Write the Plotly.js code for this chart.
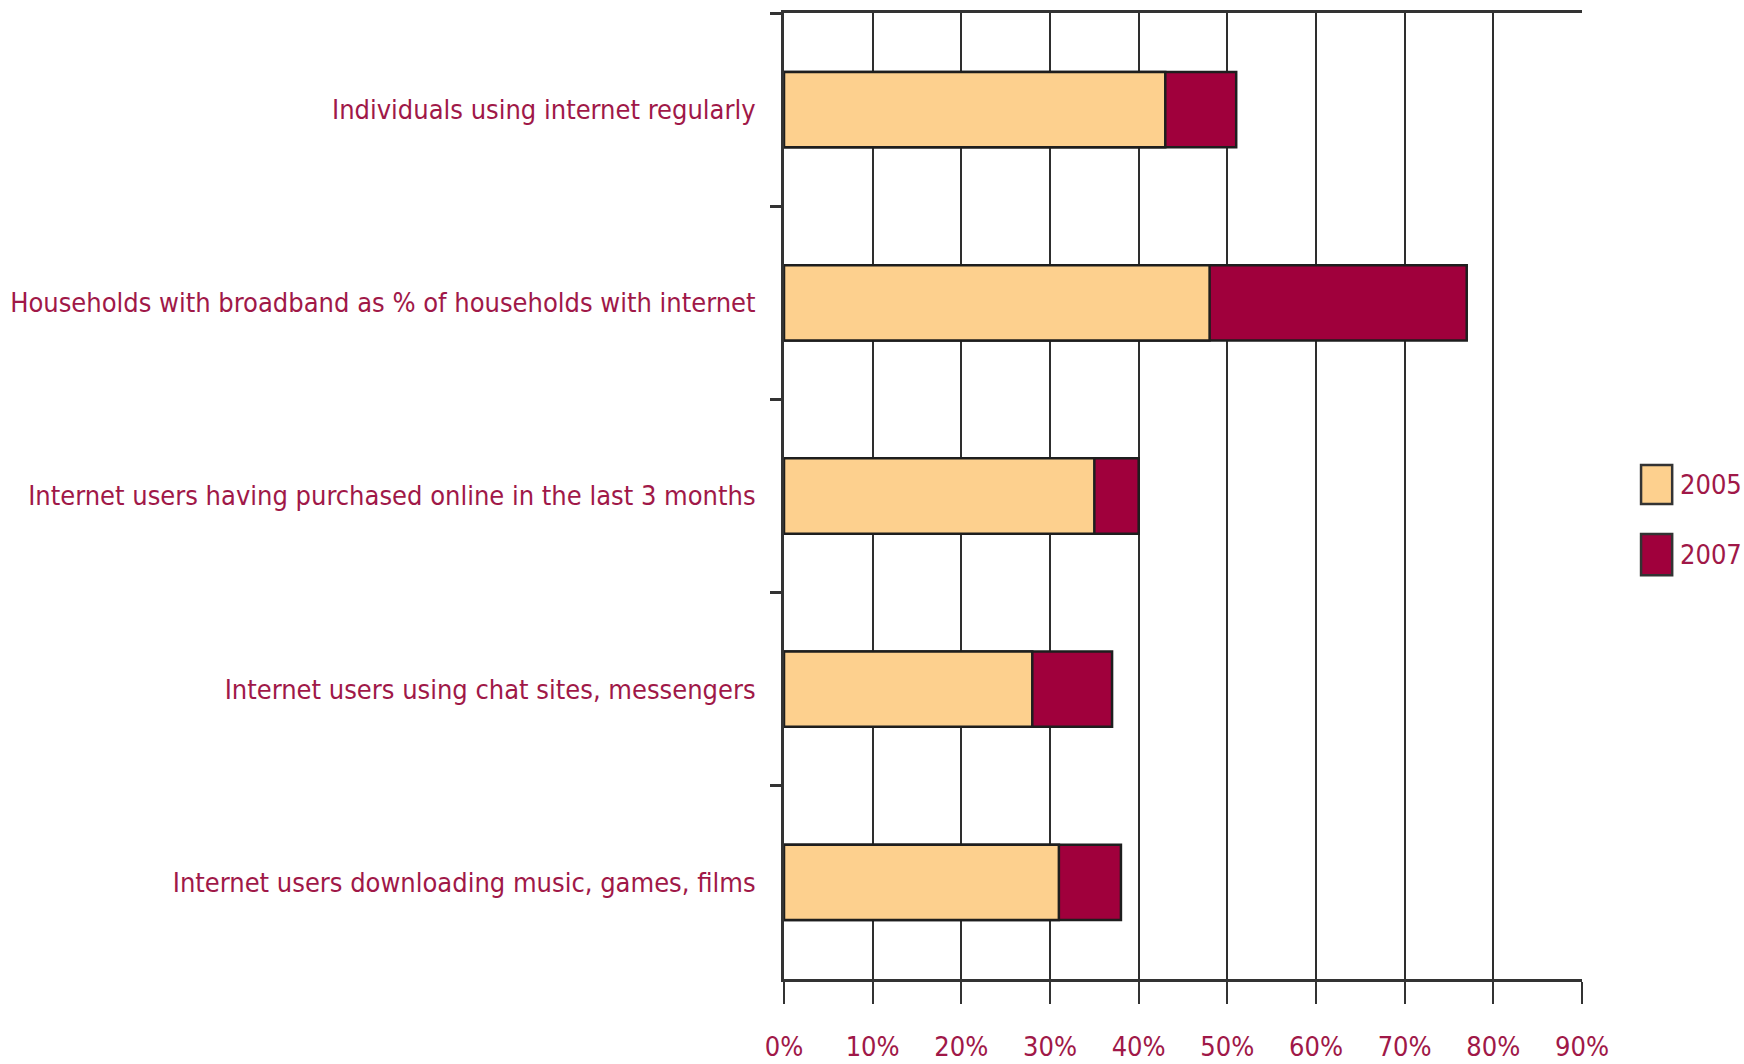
<!DOCTYPE html>
<html>
<head>
<meta charset="utf-8">
<script src="https://cdn.plot.ly/plotly-3.0.1.min.js"></script>
<style>html,body{margin:0;padding:0;background:#fff;}#chart{width:1744px;height:1064px;}</style>
</head>
<body>
<div id="chart"></div>
<script>
const categories = [
  "Individuals using internet regularly",
  "Households with broadband as % of households with internet",
  "Internet users having purchased online in the last 3 months",
  "Internet users using chat sites, messengers",
  "Internet users downloading music, games, films"
];
const seriesNames = ["2005", "2007"];
const values2005 = [43, 48, 35, 28, 31];
const values2007 = [51, 77, 40, 37, 38];
const xTickValues = [0, 10, 20, 30, 40, 50, 60, 70, 80, 90];
const xTickLabels = ["0%", "10%", "20%", "30%", "40%", "50%", "60%", "70%", "80%", "90%"];

const FONT = "'DejaVu Sans Condensed', 'Liberation Sans Narrow', sans-serif";
const TEXT = "#A01848";
const COLORS = ["#FDD08E", "#A0003C"];

const traces = [
  {
    type: "bar", orientation: "h", name: seriesNames[1],
    y: categories, x: values2007,
    marker: {color: COLORS[1], line: {color: "#1e1e1e", width: 2.5}},
    showlegend: false
  },
  {
    type: "bar", orientation: "h", name: seriesNames[0],
    y: categories, x: values2005,
    marker: {color: COLORS[0], line: {color: "#1e1e1e", width: 2.5}},
    showlegend: false
  }
];

// custom legend (larger swatches, as in the reference)
const legendY = [[0.4917, 0.532], [0.418, 0.4607]];
const shapes = seriesNames.map((n, i) => ({
  type: "rect", xref: "paper", yref: "paper",
  x0: 1.074, x1: 1.113, y0: legendY[i][0], y1: legendY[i][1],
  fillcolor: COLORS[i], line: {color: "#333", width: 2.5}
}));
const annotations = seriesNames.map((n, i) => ({
  xref: "paper", yref: "paper", x: 1.12, y: (legendY[i][0] + legendY[i][1]) / 2,
  xanchor: "left", yanchor: "middle", showarrow: false, text: n,
  font: {family: FONT, color: TEXT, size: 27}
}));

const layout = {
  width: 1744, height: 1064,
  margin: {l: 784, r: 162, t: 13, b: 85},
  paper_bgcolor: "#fff", plot_bgcolor: "#fff",
  barmode: "overlay",
  bargap: 0.61,
  font: {family: FONT, color: TEXT, size: 26},
  showlegend: false,
  shapes: shapes,
  annotations: annotations,
  xaxis: {
    range: [0, 90], tickmode: "array", tickvals: xTickValues, ticktext: xTickLabels,
    showgrid: true, gridcolor: "#2e2e2e", gridwidth: 2,
    showline: true, linecolor: "#333", linewidth: 3, mirror: true,
    ticks: "outside", ticklen: 22, tickwidth: 2, tickcolor: "#333",
    ticklabelstandoff: 20,
    tickfont: {family: FONT, color: TEXT, size: 27},
    zeroline: false, fixedrange: true, automargin: false
  },
  yaxis: {
    autorange: "reversed", type: "category",
    showline: true, linecolor: "#333", linewidth: 3,
    ticks: "outside", tickson: "boundaries", ticklen: 11, tickwidth: 3, tickcolor: "#333",
    ticklabelstandoff: 20,
    tickfont: {family: FONT, color: TEXT, size: 27},
    showgrid: false, zeroline: false, fixedrange: true, automargin: false
  }
};

Plotly.newPlot("chart", traces, layout, {displayModeBar: false, staticPlot: true});
</script>
</body>
</html>
